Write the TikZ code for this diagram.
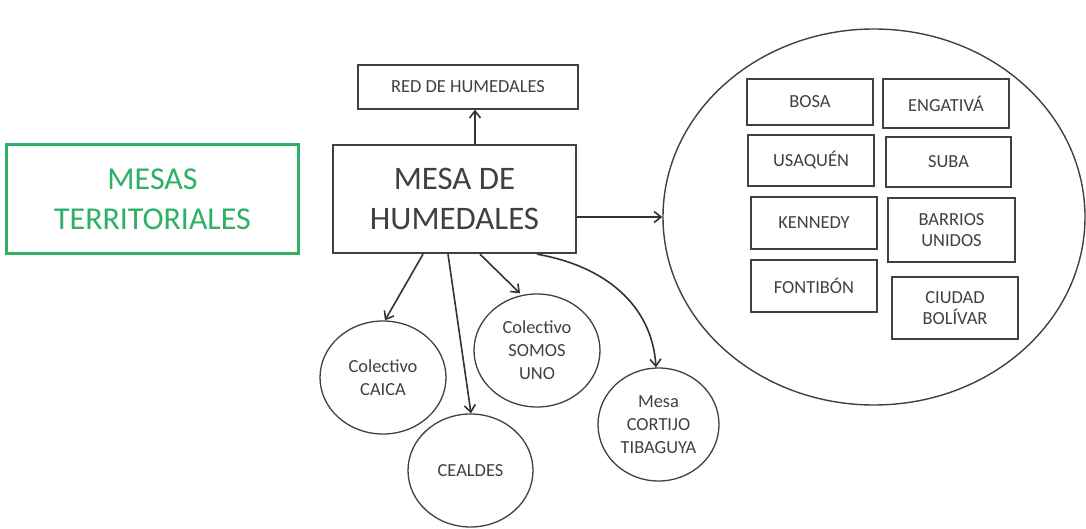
\documentclass[tikz,border=0pt]{standalone}
\usepackage{fontspec}
\setmainfont{Carlito}
\usetikzlibrary{shapes.geometric,arrows.meta}
\definecolor{ink}{RGB}{64,64,64}
\definecolor{grn}{RGB}{46,176,102}
\tikzset{
  box/.style={draw=ink, line width=1.6bp, text=ink, inner sep=0pt, align=center, font=\fontsize{18.5}{21}\selectfont},
  oval/.style={ellipse, draw=ink, line width=1.3bp, text=ink, inner sep=0pt, align=center, font=\fontsize{18.5}{23}\selectfont},
  arr/.style={draw=ink!80!black, line width=1.6bp, -{Straight Barb[length=7bp,width=11bp]}},
}
\begin{document}
\begin{tikzpicture}[x=1bp,y=-1bp]
\useasboundingbox (0,0) rectangle (1086,529);
% green box
\node[draw=grn, line width=3bp, text=grn, inner sep=0pt, align=center, minimum width=291bp, minimum height=109bp, font=\fontsize{32}{40}\selectfont] (mt) at (152.5,199.5) {MESAS\\TERRITORIALES};
% main box
\node[box, line width=2.4bp, minimum width=243bp, minimum height=108bp, font=\fontsize{33}{40}\selectfont] (main) at (454.5,199) {MESA DE\\HUMEDALES};
% red box
\node[box, line width=1.4bp, minimum width=220bp, minimum height=44bp] (red) at (468,87) {RED DE HUMEDALES};
% big circle
\node[oval, line width=1.4bp, minimum width=422bp, minimum height=376bp] (big) at (874,217) {};
% district boxes
\node[box, minimum width=126bp, minimum height=46bp] (bosa) at (810,102) {BOSA};
\node[box, minimum width=126bp, minimum height=49bp] (eng) at (946,103.5) {ENGATIVÁ};
\node[box, minimum width=126bp, minimum height=51bp] (usa) at (811,160.5) {USAQUÉN};
\node[box, minimum width=125bp, minimum height=50bp] (suba) at (948.5,162) {SUBA};
\node[box, minimum width=126bp, minimum height=52bp] (ken) at (814,223) {KENNEDY};
\node[box, minimum width=127bp, minimum height=64bp] (bar) at (951.5,230) {BARRIOS\\UNIDOS};
\node[box, minimum width=126bp, minimum height=52bp] (fon) at (814,286) {FONTIBÓN};
\node[box, minimum width=126bp, minimum height=62bp] (ciu) at (955,308) {CIUDAD\\BOLÍVAR};
% small circles
\node[oval, minimum width=126bp, minimum height=113bp] (caica) at (383,377.5) {Colectivo\\CAICA};
\node[oval, minimum width=125bp, minimum height=113bp] (cealdes) at (470.5,470.5) {CEALDES};
\node[oval, minimum width=126bp, minimum height=113bp] (somos) at (537,350.5) {Colectivo\\SOMOS\\UNO};
\node[oval, minimum width=121bp, minimum height=113bp] (cortijo) at (658.5,424.5) {Mesa\\CORTIJO\\TIBAGUYA};
% connectors
\draw[arr] ([xshift=20.5bp]main.north) -- ([xshift=20.5bp]main.north |- red.south);
\draw[arr] (main.east |- big.west) -- (big.west);
\draw[arr] ([xshift=-31.5bp]main.south) -- ([xshift=2bp]caica.north);
\draw[arr] ([xshift=-6.5bp]main.south) -- ([xshift=0.5bp]cealdes.north);
\draw[arr] ([xshift=25.5bp]main.south) -- ([xshift=-17bp]somos.north);
\draw[arr] ([xshift=82.5bp]main.south) .. controls (605,266) and (652,305) .. ([xshift=-2.5bp]cortijo.north);
\end{tikzpicture}
\end{document}
